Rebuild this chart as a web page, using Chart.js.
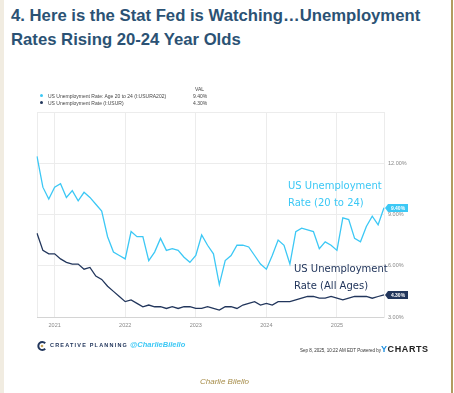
<!DOCTYPE html>
<html>
<head>
<meta charset="utf-8">
<script src="https://cdn.jsdelivr.net/npm/chart.js@4.4.1/dist/chart.umd.min.js"></script>
<style>
  html, body { margin: 0; padding: 0; background: #fff; }
  #page { position: relative; width: 454px; height: 393px; overflow: hidden; background: #fff; font-family: "Liberation Sans", Arial, sans-serif; }
  #leftbar { position: absolute; left: 0; top: 0; width: 4px; height: 393px; background: #f1ece1; }
  #rightbar { position: absolute; left: 451px; top: 0; width: 2px; height: 393px; background: #b29c60; }
  #title { position: absolute; left: 11px; top: 4px; font-weight: bold; font-size: 16.7px; line-height: 24px; color: #2b5274; white-space: nowrap; }
  canvas { position: absolute; left: 0; top: 0; }
  .abs { position: absolute; white-space: nowrap; }
  .legend { font-size: 5px; color: #444; }
  .dot { position: absolute; width: 3px; height: 3px; border-radius: 50%; }
  .note { font-family: "Comic Sans MS", "DejaVu Sans", cursive; font-size: 10px; line-height: 17px; }
</style>
</head>
<body>
<div id="page">
  <div id="leftbar"></div>
  <div id="rightbar"></div>
  <div id="title">4. Here is the Stat Fed is Watching…Unemployment<br>Rates Rising 20-24 Year Olds</div>
  <canvas id="chart" width="454" height="393"></canvas>

  <div class="abs legend" style="left:195px; top:86px;">VAL</div>
  <div class="dot" style="left:40px; top:94px; background:#3cc8f5;"></div>
  <div class="abs legend" style="left:48px; top:93px;">US Unemployment Rate: Age 20 to 24 (I:USURA202)</div>
  <div class="abs legend" style="left:193px; top:93px;">9.40%</div>
  <div class="dot" style="left:40px; top:101px; background:#22365c;"></div>
  <div class="abs legend" style="left:48px; top:100px;">US Unemployment Rate (I:USUR)</div>
  <div class="abs legend" style="left:193px; top:100px;">4.30%</div>

  <div class="abs note" style="left:288px; top:177px; color:#3cc8f5;">US Unemployment<br>Rate (20 to 24)</div>
  <div class="abs note" style="left:294px; top:260px; color:#22365c;">US Unemployment<br>Rate (All Ages)</div>

  <svg class="abs" style="left:37px; top:341px;" width="10" height="10" viewBox="0 0 10 10">
    <path d="M8.2 2.2 A4 4 0 1 0 8.2 7.8" fill="none" stroke="#22365c" stroke-width="2"/>
    <circle cx="5" cy="5" r="1.3" fill="#c9a55a"/>
  </svg>
  <div class="abs" style="left:50px; top:342px; font-size:5.5px; font-weight:bold; letter-spacing:1.2px; color:#22365c;">CREATIVE PLANNING</div>
  <div class="abs" style="left:130px; top:340px; font-size:7.5px; font-weight:bold; font-style:italic; color:#3cc8f5;">@CharlieBilello</div>

  <div class="abs" style="left:300px; top:348px; font-size:4.5px; color:#333;">Sep 8, 2025, 10:22 AM EDT Powered by</div>
  <div class="abs" style="left:381px; top:344px; font-size:9px; font-weight:bold; letter-spacing:0.6px; color:#222;"><span style="color:#1d8fe0;">Y</span>CHARTS</div>

  <div class="abs" style="left:200px; top:377px; font-size:8px; font-style:italic; color:#a68c48;">Charlie Bilello</div>
</div>

<script>
// --- Data (monthly, Sep 2020 - Aug 2025) ---
const months = [
  "2020-09", "2020-10", "2020-11", "2020-12",
  "2021-01", "2021-02", "2021-03", "2021-04", "2021-05", "2021-06", "2021-07", "2021-08", "2021-09", "2021-10", "2021-11", "2021-12",
  "2022-01", "2022-02", "2022-03", "2022-04", "2022-05", "2022-06", "2022-07", "2022-08", "2022-09", "2022-10", "2022-11", "2022-12",
  "2023-01", "2023-02", "2023-03", "2023-04", "2023-05", "2023-06", "2023-07", "2023-08", "2023-09", "2023-10", "2023-11", "2023-12",
  "2024-01", "2024-02", "2024-03", "2024-04", "2024-05", "2024-06", "2024-07", "2024-08", "2024-09", "2024-10", "2024-11", "2024-12",
  "2025-01", "2025-02", "2025-03", "2025-04", "2025-05", "2025-06", "2025-07", "2025-08"
];

const rate20to24 = [
  12.4, 10.6, 9.9, 10.6, 10.8, 10.0, 10.4, 9.8, 10.3, 10.0, 9.6, 9.2,
  7.7, 6.8, 6.6, 6.4, 8.0, 7.7, 7.7, 6.3, 6.8, 7.6, 6.9, 7.0,
  6.9, 6.5, 6.2, 6.6, 7.8, 7.2, 6.7, 4.9, 6.3, 6.6, 7.2, 7.2,
  7.1, 6.6, 6.1, 5.8, 6.6, 7.5, 7.2, 6.1, 8.0, 8.2, 8.1, 8.0,
  7.0, 7.4, 7.2, 6.9, 8.8, 8.7, 7.6, 7.4, 8.3, 8.9, 8.4, 9.4
];

const rateAll = [
  7.9, 6.9, 6.7, 6.7, 6.4, 6.2, 6.1, 6.1, 5.8, 5.9, 5.4, 5.2,
  4.8, 4.5, 4.2, 3.9, 4.0, 3.8, 3.6, 3.7, 3.6, 3.6, 3.5, 3.6,
  3.5, 3.6, 3.6, 3.5, 3.5, 3.6, 3.5, 3.4, 3.6, 3.6, 3.5, 3.7,
  3.8, 3.9, 3.7, 3.8, 3.7, 3.9, 3.9, 3.9, 4.0, 4.1, 4.2, 4.2,
  4.1, 4.1, 4.2, 4.1, 4.0, 4.1, 4.2, 4.2, 4.2, 4.1, 4.2, 4.3
];

const yTicks = [3, 6, 9, 12, 15];

const CYAN = '#3cc8f5';
const NAVY = '#22365c';
const GRID = '#ececec';

// value tags at the right end of each line
const lastValueTags = {
  id: 'lastValueTags',
  afterDraw(chart) {
    const ctx = chart.ctx;
    const y = chart.scales.y;
    const area = chart.chartArea;
    chart.data.datasets.forEach(ds => {
      const v = ds.data[ds.data.length - 1];
      const py = Math.round(y.getPixelForValue(v));
      const x0 = area.right + 4;
      ctx.save();
      ctx.fillStyle = ds.borderColor;
      ctx.beginPath();
      ctx.moveTo(area.right + 1, py);
      ctx.lineTo(x0, py - 4);
      ctx.lineTo(x0 + 20, py - 4);
      ctx.lineTo(x0 + 20, py + 4);
      ctx.lineTo(x0, py + 4);
      ctx.closePath();
      ctx.fill();
      ctx.fillStyle = '#fff';
      ctx.font = 'bold 5px "Liberation Sans", Arial, sans-serif';
      ctx.textAlign = 'center';
      ctx.textBaseline = 'middle';
      ctx.fillText(v.toFixed(2) + '%', x0 + 10, py + 0.5);
      ctx.restore();
    });
  }
};

new Chart(document.getElementById('chart').getContext('2d'), {
  type: 'line',
  data: {
    labels: months,
    datasets: [
      {
        label: 'US Unemployment Rate: Age 20 to 24 (I:USURA202)',
        data: rate20to24,
        borderColor: CYAN,
        borderWidth: 1.3,
        pointRadius: 0,
        tension: 0
      },
      {
        label: 'US Unemployment Rate (I:USUR)',
        data: rateAll,
        borderColor: NAVY,
        borderWidth: 1.3,
        pointRadius: 0,
        tension: 0
      }
    ]
  },
  options: {
    responsive: false,
    animation: false,
    layout: { padding: { left: 37, top: 112, right: 0, bottom: 56 } },
    plugins: { legend: { display: false }, tooltip: { enabled: false } },
    scales: {
      x: {
        type: 'category',
        grid: { color: GRID, drawTicks: false },
        border: { color: '#d4d4d4' },
        afterFit: s => { s.height = 20; },
        ticks: {
          autoSkip: false,
          maxRotation: 0,
          padding: 5,
          color: '#888',
          font: { size: 5.5, family: '"Liberation Sans", Arial, sans-serif' },
          callback: function (val, i) {
            const m = months[i];
            if (i === 0 || i === months.length - 1) return '';
            if (m.endsWith('-12')) return String(Number(m.slice(0, 4)) + 1);
            return null;
          }
        }
      },
      y: {
        position: 'right',
        min: yTicks[0],
        max: yTicks[yTicks.length - 1],
        afterBuildTicks: s => { s.ticks = yTicks.map(v => ({ value: v })); },
        afterFit: s => { s.width = 70; },
        grid: { color: GRID, drawTicks: false },
        border: { color: GRID },
        ticks: {
          padding: 4,
          color: '#888',
          font: { size: 5.5, family: '"Liberation Sans", Arial, sans-serif' },
          callback: v => v === 15 ? '' : v.toFixed(2) + '%'
        }
      }
    }
  },
  plugins: [lastValueTags]
});
</script>
</body>
</html>
